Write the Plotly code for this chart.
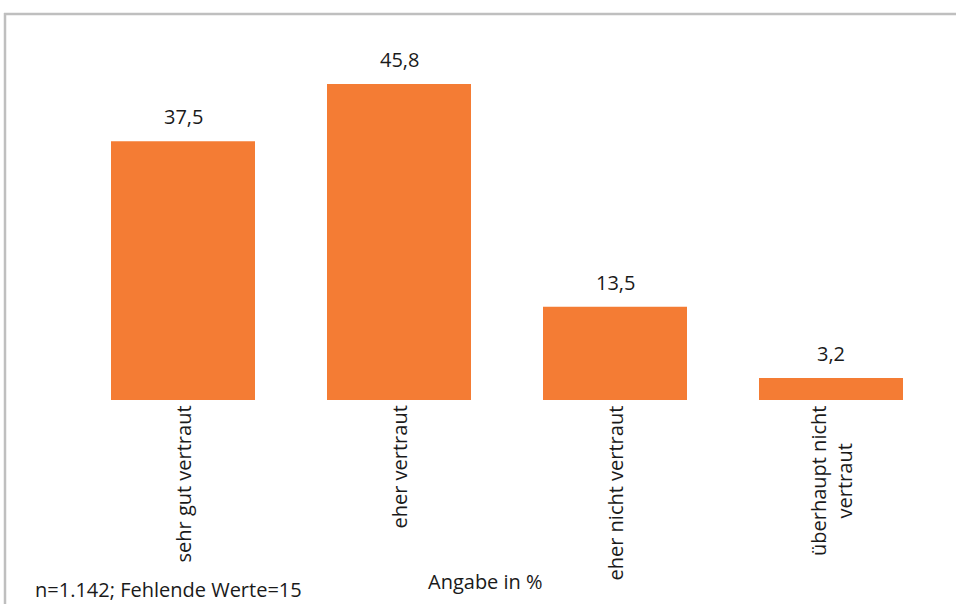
import plotly.graph_objects as go

categories = ["sehr gut vertraut", "eher vertraut", "eher nicht vertraut", "überhaupt nicht<br>vertraut"]
values = [37.5, 45.8, 13.5, 3.2]
value_labels = ["37,5", "45,8", "13,5", "3,2"]

W, H = 956, 604
L, R, T, B = 75, 17, 55, 204
pw, ph = W - L - R, H - T - B

def px_x(px):
    return (px - L) / pw

def px_y(py):
    return (H - B - py) / ph

FONT = "Open Sans"
FS = 20
TXT = "#1a1a1a"

fig = go.Figure(go.Bar(
    x=list(range(len(categories))), y=values,
    marker=dict(color="#F47C34", line=dict(width=0)),
    width=0.6667, hoverinfo="skip",
))

for i, (v, t) in enumerate(zip(values, value_labels)):
    fig.add_annotation(x=i, y=v, xref="x", yref="y", text=t, showarrow=False,
                       yanchor="bottom", yshift=9,
                       font=dict(family=FONT, size=FS, color=TXT))

for i, c in enumerate(categories):
    fig.add_annotation(x=i, y=px_y(404), xref="x", yref="paper", text=c, showarrow=False,
                       textangle=-90, yanchor="top", xanchor="center", align="center",
                       font=dict(family=FONT, size=FS, color=TXT))

fig.add_annotation(x=px_x(33), y=px_y(589), xref="paper", yref="paper",
                   text="n=1.142; Fehlende Werte=15", showarrow=False,
                   xanchor="left", yanchor="middle",
                   font=dict(family=FONT, size=FS, color=TXT))
fig.add_annotation(x=px_x(485), y=px_y(581), xref="paper", yref="paper",
                   text="Angabe in %", showarrow=False,
                   xanchor="center", yanchor="middle",
                   font=dict(family=FONT, size=FS, color=TXT))

# outer frame lines (top and left)
fig.add_shape(type="line", xref="paper", yref="paper",
              x0=px_x(4), x1=px_x(960), y0=px_y(14), y1=px_y(14),
              line=dict(color="#BFBFBF", width=2.5))
fig.add_shape(type="line", xref="paper", yref="paper",
              x0=px_x(5), x1=px_x(5), y0=px_y(13), y1=px_y(610),
              line=dict(color="#BFBFBF", width=2.5))

fig.update_layout(
    width=W, height=H,
    margin=dict(l=L, r=R, t=T, b=B),
    paper_bgcolor="white", plot_bgcolor="white",
    showlegend=False, bargap=0.3333,
    xaxis=dict(range=[-0.5, 3.5], showticklabels=False, showgrid=False,
               zeroline=False, showline=False, ticks=""),
    yaxis=dict(range=[0, 50], showticklabels=False, showgrid=False,
               zeroline=False, showline=False, ticks=""),
)

fig.write_html("out.html")
